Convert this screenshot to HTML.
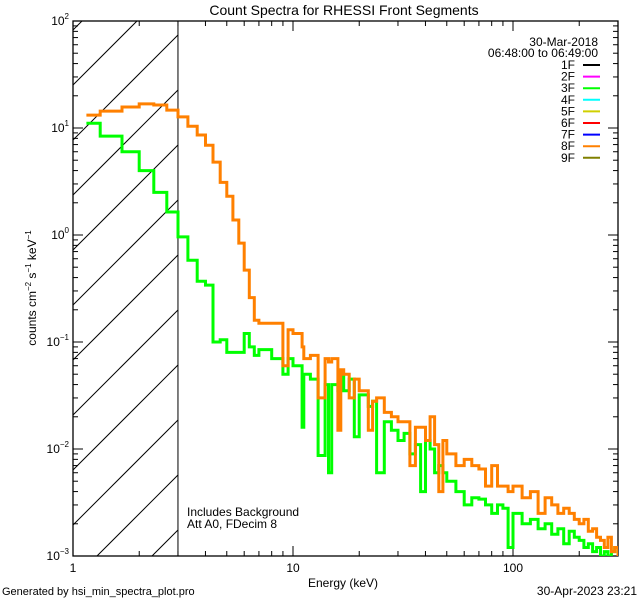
<!DOCTYPE html>
<html><head><meta charset="utf-8"><style>
html,body{margin:0;padding:0;background:#fff;width:640px;height:600px;overflow:hidden;}
svg{display:block;font-family:"Liberation Sans",sans-serif;overflow:hidden;}
</style></head><body>
<svg id="chart" width="640" height="600" viewBox="0 0 640 600" xmlns="http://www.w3.org/2000/svg">
<rect x="0" y="0" width="640" height="600" fill="#fff"/>
<text x="344" y="15" font-size="14" text-anchor="middle">Count Spectra for RHESSI Front Segments</text>
<defs><clipPath id="pclip"><rect x="73" y="21" width="545" height="535"/></clipPath></defs>
<g id="hatch"></g>
<g id="axes"></g>
<g id="series" clip-path="url(#pclip)"></g>
<g id="legend"></g>
<text transform="translate(36,288) rotate(-90)" font-size="12" text-anchor="middle">counts cm<tspan font-size="8" dy="-5">−2</tspan><tspan dy="5"> s</tspan><tspan font-size="8" dy="-5">−1</tspan><tspan dy="5"> keV</tspan><tspan font-size="8" dy="-5">−1</tspan></text>
<text x="343" y="587" font-size="12" text-anchor="middle">Energy (keV)</text>
<text x="187" y="516" font-size="12">Includes Background</text>
<text x="187" y="528" font-size="12">Att A0, FDecim 8</text>
<text x="2" y="595" font-size="11">Generated by hsi_min_spectra_plot.pro</text>
<text x="637" y="595" font-size="12" text-anchor="end">30-Apr-2023 23:21</text>
</svg>
<script>
const edges=[1.15,1.33,1.67,2.0,2.33,2.67,3.0,3.33,3.67,4.0,4.33,4.67,5.0,5.33,5.67,6.0,6.33,6.67,7,8,9,9.5,10,11,11.2,12,13,14,14.5,15,16,16.5,17,18,19,20,22,23,24,26,28,30,32,34,36,38,40,42,44,46,48,50,55,60,65,70,75,80,85,90,95,100,110,120,130,140,150,160,170,180,190,200,210,220,230,240,250,260,270,280,290,300];
const orange=[13.2,14.4,15.7,16.8,16.4,14.7,12.7,10.4,8.6,6.9,4.8,3.1,2.3,1.38,0.84,0.47,0.26,0.16,0.15,0.15,0.06,0.13,0.12,0.09,0.07,0.075,0.03,0.07,0.065,0.07,0.015,0.055,0.05,0.03,0.045,0.035,0.015,0.028,0.03,0.022,0.02,0.018,0.018,0.007,0.016,0.016,0.012,0.02,0.011,0.004,0.012,0.009,0.007,0.008,0.007,0.0065,0.0045,0.007,0.0045,0.0045,0.004,0.0045,0.0035,0.004,0.0025,0.0035,0.003,0.0025,0.0028,0.0025,0.0022,0.002,0.0022,0.0017,0.0018,0.0015,0.0014,0.0012,0.0015,0.0011,0.0012,0.0009,0.0014];
const green=[11.1,8.4,6.0,4.0,2.5,1.64,0.96,0.58,0.37,0.34,0.10,0.105,0.08,0.08,0.08,0.12,0.09,0.075,0.085,0.07,0.05,0.07,0.06,0.016,0.05,0.045,0.0087,0.04,0.006,0.04,0.035,0.05,0.035,0.045,0.013,0.032,0.025,0.028,0.006,0.018,0.015,0.012,0.014,0.009,0.011,0.004,0.012,0.01,0.006,0.007,0.006,0.005,0.004,0.003,0.0035,0.0034,0.003,0.0025,0.003,0.0028,0.0012,0.0025,0.002,0.0022,0.0018,0.002,0.0016,0.0018,0.0013,0.0017,0.0015,0.0014,0.0012,0.0013,0.0011,0.0012,0.001,0.0011,0.0009,0.0011,0.0012,0.001];
const yTickExps=[2,1,0,-1,-2,-3];
const xTickLabels=["1","10","100"];
const legendLabels=["1F","2F","3F","4F","5F","6F","7F","8F","9F"];
const legendColors=["#000000","#ff00ff","#00ff00","#00ffff","#d0d000","#ff0000","#0000ff","#ff8000","#808000"];

const NS="http://www.w3.org/2000/svg";
const X0=73,X1=618,Y0=21,Y1=556;
const xdec=220, ydec=107;
function sx(e){return X0+Math.log10(e)*xdec;}
function sy(v){return Y0+(2-Math.log10(v))*ydec;}
function mk(tag,attrs,parent){const el=document.createElementNS(NS,tag);for(const k in attrs)el.setAttribute(k,attrs[k]);parent.appendChild(el);return el;}

const hg=document.getElementById('hatch');
const HX1=sx(3);
for(let c=-135;c<700;c+=55){
  let xa=X0, ya=c;
  if(ya>Y1){xa=X0+(ya-Y1);ya=Y1;}
  let xb=HX1, yb=c-(HX1-X0);
  if(yb<Y0){xb=X0+(c-Y0);yb=Y0;}
  if(xa>=xb||xa>HX1||xb<X0) continue;
  const l=mk('line',{x1:xa,y1:ya,x2:xb,y2:yb,stroke:'#000','stroke-width':1},hg);
  
  
}
const ax=document.getElementById('axes');
const vl=mk('line',{x1:sx(3),y1:Y0,x2:sx(3),y2:Y1,stroke:'#000','stroke-width':1},ax);


const fr=mk('rect',{x:X0,y:Y0,width:X1-X0,height:Y1-Y0,fill:'none',stroke:'#000','stroke-width':1.3},ax);


for(const p of yTickExps){
  const y=sy(Math.pow(10,p));
  mk('line',{x1:X0,y1:y,x2:X0+10,y2:y,stroke:'#000'},ax);
  mk('line',{x1:X1,y1:y,x2:X1-10,y2:y,stroke:'#000'},ax);
  const t=mk('text',{x:X0-4,y:y+4,'font-size':12,'text-anchor':'end'},ax);
  
  
  t.innerHTML='10<tspan font-size="8" dy="-6">'+(p<0?'−'+(-p):p)+'</tspan>';
  if(p>-3){for(let m=2;m<10;m++){const ym=sy(Math.pow(10,p-1)*m);
    mk('line',{x1:X0,y1:ym,x2:X0+5,y2:ym,stroke:'#000'},ax);
    mk('line',{x1:X1,y1:ym,x2:X1-5,y2:ym,stroke:'#000'},ax);}}
}
for(let d=0;d<3;d++){
  const x=sx(Math.pow(10,d));
  if(d>0){mk('line',{x1:x,y1:Y1,x2:x,y2:Y1-10,stroke:'#000'},ax);mk('line',{x1:x,y1:Y0,x2:x,y2:Y0+10,stroke:'#000'},ax);}
  const t=mk('text',{x:x,y:Y1+16,'font-size':12,'text-anchor':'middle'},ax);
  
  
  t.textContent=xTickLabels[d];
  for(let m=2;m<10;m++){const v=Math.pow(10,d)*m;if(v>300)break;const xm=sx(v);
    mk('line',{x1:xm,y1:Y1,x2:xm,y2:Y1-5,stroke:'#000'},ax);mk('line',{x1:xm,y1:Y0,x2:xm,y2:Y0+5,stroke:'#000'},ax);}
}
function stepPath(vals){
  let d='';
  for(let i=0;i<vals.length;i++){
    const xa=sx(edges[i]),xb=sx(edges[i+1]),y=Math.min(Y1,sy(vals[i]));
    d+=(i===0?'M':'L')+xa.toFixed(1)+','+y.toFixed(1)+'L'+xb.toFixed(1)+','+y.toFixed(1);
  }
  return d;
}
const sg=document.getElementById('series');
const pg=mk('path',{d:stepPath(green),fill:'none',stroke:'#00ff00','stroke-width':3},sg);


const po=mk('path',{d:stepPath(orange),fill:'none',stroke:'#ff8000','stroke-width':3},sg);


const lg=document.getElementById('legend');
const d1=mk('text',{x:598,y:46,'font-size':12,'text-anchor':'end'},lg);d1.textContent='30-Mar-2018';


const d2=mk('text',{x:598,y:57,'font-size':12,'text-anchor':'end'},lg);d2.textContent='06:48:00 to 06:49:00';


for(let i=0;i<legendLabels.length;i++){
  const y=65+i*11.6;
  const t=mk('text',{x:575,y:y+4,'font-size':12,'text-anchor':'end'},lg);t.textContent=legendLabels[i];
  
  
  const l=mk('line',{x1:583,y1:y,x2:600,y2:y,stroke:legendColors[i],'stroke-width':2},lg);
  
  
}
</script>
</body></html>
